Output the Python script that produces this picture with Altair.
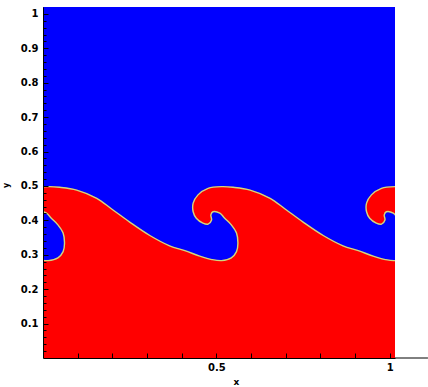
import altair as alt
import pandas as pd

# ---------------- data ----------------
x_domain = [0.0, 1.015]
y_domain = [0.0, 1.02]

# one period (0.5 wide) of the fluid interface
# (slope -> trough -> pocket -> curled tongue -> cap top)
wave_x = [0.016, 0.048, 0.097, 0.155, 0.198, 0.250, 0.308, 0.365, 0.409, 0.452,
          0.487, 0.515, 0.543, 0.558, 0.562, 0.558, 0.543, 0.524, 0.510, 0.490,
          0.484, 0.486, 0.476, 0.461, 0.442, 0.433, 0.433, 0.447, 0.476]
wave_y = [0.498, 0.496, 0.488, 0.464, 0.433, 0.395, 0.356, 0.326, 0.312, 0.296,
          0.286, 0.283, 0.291, 0.309, 0.333, 0.363, 0.387, 0.406, 0.421, 0.425,
          0.416, 0.401, 0.389, 0.392, 0.406, 0.425, 0.450, 0.474, 0.493]
period_shifts = [-0.5, 0.0, 0.5, 1.0]

x_labels = [0.5, 1.0]
x_ticks = [0.1, 0.2, 0.3, 0.4, 0.5, 0.6, 0.7, 0.8, 0.9, 1.0]
y_labels = [0.1, 0.2, 0.3, 0.4, 0.5, 0.6, 0.7, 0.8, 0.9, 1.0]
y_minor = [round(0.02 * i, 2) for i in range(1, 51)]

axis_extension_x = [1.015, 1.11]

BLUE = "#0000ff"
RED = "#ff0000"
EDGE = "#cfd880"

# ---------------- tables ----------------
ix, iy = [], []
for s in period_shifts[:-1]:
    for a, b in zip(wave_x, wave_y):
        ix.append(a + s)
        iy.append(b)
ix.append(wave_x[0] + period_shifts[-1])
iy.append(wave_y[0])
iface = pd.DataFrame({"x": ix, "y": iy, "i": range(len(ix))})

# closed polygon: interface, then round the bottom outside the view
xs_, xe_ = ix[0], ix[-1]
below = y_domain[0] - 0.1
px = ix + [xe_ + 0.1, xe_ + 0.1, xs_ - 0.1, xs_ - 0.1]
py = iy + [iy[-1], below, below, iy[0]]
poly = pd.DataFrame({"x": px, "y": py, "i": range(len(px))})

bg = pd.DataFrame({"x0": [x_domain[0]], "x1": [x_domain[1]],
                   "y0": [y_domain[0]], "y1": [y_domain[1]]})
ext = pd.DataFrame({"x0": [axis_extension_x[0]], "x1": [axis_extension_x[1]],
                    "y": [0.0]})

xs = alt.Scale(domain=x_domain, nice=False, zero=False)
ys = alt.Scale(domain=y_domain, nice=False, zero=False)

FONT = "DejaVu Sans"

main_x = alt.Axis(values=x_labels, format="~g", ticks=False, grid=False,
                  domainColor="black", domainWidth=1,
                  labelFont=FONT, labelFontWeight="bold", labelFontSize=10,
                  labelColor="black", labelPadding=4, labelFlush=False,
                  title="x", titleFont=FONT, titleFontSize=9, titleFontWeight="bold",
                  titleColor="black", titleX=193, titleY=23, titleBaseline="middle",
                  zindex=2)
main_y = alt.Axis(values=y_labels, format="~g", ticks=False, grid=False,
                  domainColor="black", domainWidth=1,
                  labelFont=FONT, labelFontWeight="bold", labelFontSize=10,
                  labelColor="black", labelPadding=5, labelFlush=False,
                  title="y", titleFont=FONT, titleFontSize=8, titleFontWeight="bold",
                  titleColor="black", titleX=-37, titleY=178, titleAngle=270,
                  titleBaseline="middle", zindex=2)
inner_x = alt.Axis(orient="top", offset=-351, values=x_ticks, labels=False,
                   domain=False, grid=False, tickSize=5, tickColor="black",
                   tickWidth=1, title="", zindex=2)
inner_y = alt.Axis(orient="right", offset=-352, values=y_labels, labels=False,
                   domain=False, grid=False, tickSize=5, tickColor="black",
                   tickWidth=1, title="", zindex=2)
minor_y = alt.Axis(orient="right", offset=-352, values=y_minor, labels=False,
                   domain=False, grid=False, tickSize=3, tickColor="black",
                   tickWidth=1, title="", zindex=2)

background = alt.Chart(bg).mark_rect(color=BLUE).encode(
    x=alt.X("x0:Q", scale=xs, axis=main_x), x2="x1:Q",
    y=alt.Y("y0:Q", scale=ys, axis=main_y), y2="y1:Q")

red_fluid = alt.Chart(poly).mark_line(fill=RED, stroke=RED, strokeWidth=0.5,
                                      clip=True, interpolate="catmull-rom").encode(
    x=alt.X("x:Q", scale=xs, axis=inner_x),
    y=alt.Y("y:Q", scale=ys, axis=inner_y),
    order="i:Q")

interface = alt.Chart(iface).mark_line(color=EDGE, strokeWidth=1.4, clip=True,
                                       interpolate="catmull-rom").encode(
    x=alt.X("x:Q", scale=xs, axis=None),
    y=alt.Y("y:Q", scale=ys, axis=minor_y),
    order="i:Q")

axis_ext = alt.Chart(ext).mark_rule(color="black", strokeWidth=1).encode(
    x=alt.X("x0:Q", scale=xs, axis=None), x2="x1:Q",
    y=alt.Y("y:Q", scale=ys, axis=None))

chart = alt.layer(background, red_fluid, interface, axis_ext).resolve_axis(
    x="independent", y="independent"
).properties(
    width=352, height=351,
    padding={"left": 43, "top": 7, "right": 33, "bottom": 29},
    autosize=alt.AutoSizeParams(type="none"),
    background="white",
).configure_view(stroke=None)

chart.save("out.html", embed_options={"renderer": "svg", "actions": False})
